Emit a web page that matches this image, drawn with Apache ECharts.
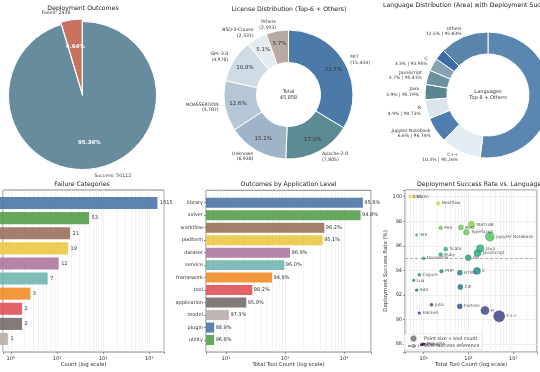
<!DOCTYPE html>
<html><head><meta charset="utf-8">
<script src="https://cdn.jsdelivr.net/npm/echarts@6/dist/echarts.min.js"></script>
<style>html,body{margin:0;padding:0;background:#fff}#c{width:540px;height:372px}</style>
</head><body><div id="c"></div>
<script>
// ---------------- data ----------------
const outcomeLabels = ['Failed', 'Success'];
const outcomeCounts = [2438, 50112];

const licenseNames = ['MIT', 'Apache-2.0', 'Unknown', 'NOASSERTION', 'GPL-3.0', 'BSD-3-Clause', 'Others'];
const licenseCounts = [15434, 7805, 6938, 5787, 4970, 2331, 2593];

const languageNames = ['Python', 'C++', 'Jupyter Notebook', 'R', 'Java', 'JavaScript', 'C', 'MATLAB', 'Others'];
const languageAreaPct = [52.0, 10.3, 6.6, 4.9, 3.9, 3.7, 3.3, 2.8, 12.5];
const languageSuccessPct = [null, 90.26, 96.74, 90.73, 95.79, 95.41, 93.95, 97.74, 95.83];

const failureCategories = ['failure_1', 'failure_2', 'failure_3', 'failure_4', 'failure_5', 'failure_6', 'failure_7', 'failure_8', 'failure_9', 'failure_10'];
const failureCounts = [1515, 53, 21, 19, 12, 7, 3, 2, 2, 1];

const appLevels = ['library', 'solver', 'workflow', 'platform', 'dataset', 'service', 'framework', 'tool', 'application', 'model', 'plugin', 'utility'];
const appToolCounts = [20900, 19100, 4640, 4350, 1215, 975, 605, 279, 221, 112, 63, 63];
const appSuccessPct = [95.8, 94.8, 96.2, 95.1, 96.9, 96.0, 94.9, 98.2, 95.9, 97.3, 88.9, 96.8];

const scatterLanguages = ['CSS', 'Kotlin', 'Nextflow', 'Perl', 'TeX', 'Rust', 'TypeScript', 'MATLAB', 'Jupyter Notebook', 'Java', 'JavaScript', 'Go', 'Scala', 'Ruby', 'Dockerfile', 'PHP', 'HTML', 'C', 'Clojure', 'Lua', 'Ada', 'C#', 'Julia', 'Fortran', 'Haskell', 'R', 'C++', 'Groovy', 'Makefile'];
const scatterToolCounts = [5, 6, 21, 24, 7, 68, 90, 117, 300, 183, 159, 99, 31, 24, 10, 25, 64, 155, 8, 6, 7, 66, 15, 64, 8, 234, 485, 9, 10];
const scatterSuccessPct = [100.0, 100.0, 99.46, 97.47, 96.88, 97.5, 97.1, 97.74, 96.74, 95.79, 95.41, 95.03, 95.72, 95.3, 94.98, 93.92, 93.81, 93.95, 93.64, 93.18, 92.39, 92.64, 91.2, 91.07, 90.52, 90.73, 90.26, 87.95, 88.0];
const successReference = 95;

// ---------------- styling ----------------
const FONT = 'DejaVu Sans';
const outcomeColors = ['#c8715f', '#678c9d'];
const licenseColors = ['#4b79a8', '#5c8b94', '#9fb4c8', '#b5c7d6', '#cfdbe5', '#e6ebef', '#b8aba7'];
const languageColors = ['#5a86b0', '#e4ecf2', '#4f7db0', '#dbe5ed', '#5a8592', '#6b929d', '#87a2b3', '#3b6ba8', '#5a84a9'];
const tab10 = ['#4e79a7', '#59a14f', '#9c755f', '#edc948', '#b07aa1', '#76b7b2', '#f28e2b', '#e15759', '#79706e', '#bab0ac'];
const viridis = ['#440154', '#482475', '#414487', '#355f8d', '#2a788e', '#21918c', '#22a884', '#44bf70', '#7ad151', '#bddf26', '#fde725'];

const SUP = {'-': '\u207B', '0': '\u2070', '1': '\u00B9', '2': '\u00B2', '3': '\u00B3', '4': '\u2074', '5': '\u2075'};
function logLabel(v) {
  const e = Math.log10(v), r = Math.round(e);
  if (Math.abs(e - r) > 1e-6) return '';
  return '10' + String(r).split('').map(c => SUP[c]).join('');
}
function minorTicks(lo, hi) {
  const out = [];
  for (let e = -1; e <= 5; e++) for (let m = 2; m <= 9; m++) {
    const v = m * Math.pow(10, e);
    if (v > lo * 1.001 && v < hi * 0.999) out.push(v);
  }
  return out;
}
const gridLineColor = '#e6e6e6';
const spine = {show: true, borderColor: '#666', borderWidth: 0.8, backgroundColor: 'rgba(0,0,0,0)'};
const labelTxt = {fontSize: 5, color: '#333', fontFamily: FONT};

function logAxis(gridIndex, min, max, name, visible) {
  const ax = {
    type: 'log', logBase: 10, gridIndex, min, max, startValue: min,
    axisLine: {show: false},
    axisTick: {show: visible, length: 2, lineStyle: {color: '#555', width: 0.6}},
    axisLabel: {show: visible, formatter: logLabel, margin: 4, ...labelTxt},
    splitLine: {show: visible, lineStyle: {color: gridLineColor, width: 0.6}},
    show: visible
  };
  if (name) {
    ax.name = name; ax.nameLocation = 'middle'; ax.nameGap = 10;
    ax.nameTextStyle = {fontSize: 5.4, color: '#333', fontFamily: FONT};
  }
  return ax;
}
function minorLineSeries(xAxisIndex, yAxisIndex, lo, hi) {
  return {
    type: 'line', xAxisIndex, yAxisIndex, data: [], z: 0, silent: true,
    markLine: {
      silent: true, z: 0, symbol: ['none', 'none'], animation: false,
      label: {show: false},
      lineStyle: {color: gridLineColor, width: 0.5, type: 'solid'},
      emphasis: {disabled: true},
      data: minorTicks(lo, hi).map(v => ({xAxis: v}))
    }
  };
}

const outcomeTotal = outcomeCounts.reduce((a, b) => a + b, 0);
const licenseTotal = licenseCounts.reduce((a, b) => a + b, 0);

const p4min = 0.678, p4max = 2085;
const p5min = 45.8, p5max = 28700;
const p6min = 3.84, p6max = 3388;

const option = {
  animation: false,
  textStyle: {fontFamily: FONT},
  title: [
    {text: 'Deployment Outcomes', left: 83, top: 5.5, textAlign: 'center'},
    {text: 'License Distribution (Top-6 + Others)', left: 289, top: 6.5, textAlign: 'center'},
    {text: 'Language Distribution (Area) with Deployment Success Rate', left: 383, top: 2.5, textAlign: 'left'},
    {text: 'Failure Categories', left: 82, top: 181.5, textAlign: 'center'},
    {text: 'Outcomes by Application Level', left: 288.5, top: 181.5, textAlign: 'center'},
    {text: 'Deployment Success Rate vs. Language', left: 417, top: 181.5, textAlign: 'left'}
  ].map(t => Object.assign(t, {padding: 0, textStyle: {fontSize: 6.2, fontWeight: 'normal', color: '#222', fontFamily: FONT}})),
  graphic: [
    {type: 'text', x: 288.5, y: 94.5, silent: true, style: {text: 'Total\n' + licenseTotal.toLocaleString('en-US'), align: 'center', verticalAlign: 'middle', fontSize: 5, lineHeight: 6, fill: '#333', fontFamily: FONT}},
    {type: 'text', x: 488, y: 95, silent: true, style: {text: 'Languages\nTop-8 + Others', align: 'center', verticalAlign: 'middle', fontSize: 5, lineHeight: 6, fill: '#333', fontFamily: FONT}}
  ],
  legend: {
    orient: 'vertical', left: 404, top: 334, itemGap: 1.5, itemWidth: 11, itemHeight: 5,
    padding: [1, 3], backgroundColor: 'rgba(255,255,255,0.8)', borderColor: '#ddd', borderWidth: 0.5,
    textStyle: {fontSize: 4.8, color: '#333', fontFamily: FONT},
    data: [
      {name: 'Point size \u221D tool count', icon: 'circle', itemStyle: {color: '#808080'}},
      {name: '95% success reference'}
    ]
  },
  visualMap: {
    type: 'continuous', show: false, seriesIndex: 12, dimension: 1,
    min: Math.min(...scatterSuccessPct), max: Math.max(...scatterSuccessPct),
    inRange: {color: viridis}
  },
  grid: [
    Object.assign({left: -1, top: 190, width: 165, height: 162}, spine),
    {left: -1, top: 195.45, width: 165, height: 151.1},
    Object.assign({left: 206, top: 190.3, width: 165, height: 161.7}, spine),
    {left: 206, top: 196.46, width: 165, height: 149.8},
    Object.assign({left: 405, top: 190, width: 165, height: 162}, spine)
  ],
  xAxis: [
    logAxis(0, p4min, p4max, 'Count (log scale)', true),
    logAxis(1, p4min, p4max, null, false),
    logAxis(2, p5min, p5max, 'Total Tool Count (log scale)', true),
    logAxis(3, p5min, p5max, null, false),
    logAxis(4, p6min, p6max, 'Total Tool Count (log scale)', true)
  ],
  yAxis: [
    {type: 'value', gridIndex: 0, min: 0, max: 1, show: false},
    {type: 'category', gridIndex: 1, data: failureCategories, inverse: true,
     axisLine: {show: false}, axisTick: {show: false}, axisLabel: {show: false}},
    {type: 'value', gridIndex: 2, min: 0, max: 1, show: false},
    {type: 'category', gridIndex: 3, data: appLevels, inverse: true,
     axisLine: {show: false}, axisTick: {show: true, alignWithLabel: true, length: 2, lineStyle: {color: '#555', width: 0.6}},
     axisLabel: Object.assign({margin: 3}, labelTxt)},
    {type: 'value', gridIndex: 4, min: 87.35, max: 100.546, splitNumber: 6,
     axisLine: {show: false},
     axisTick: {show: true, length: 2, lineStyle: {color: '#555', width: 0.6}},
     axisLabel: Object.assign({margin: 3, formatter: v => (Math.abs(v - Math.round(v)) < 1e-6 && Math.round(v) % 2 === 0) ? String(Math.round(v)) : ''}, labelTxt),
     splitLine: {show: true, lineStyle: {color: gridLineColor, width: 0.6}},
     name: 'Deployment Success Rate (%)', nameLocation: 'middle', nameGap: 17,
     nameTextStyle: {fontSize: 5.4, color: '#333', fontFamily: FONT}}
  ],
  series: [
    // 0: outcomes pie
    {
      type: 'pie', center: [82.5, 95.5], radius: [0, 74], clockwise: false, startAngle: 90,
      selectedMode: 'multiple', selectedOffset: 2.5, avoidLabelOverlap: false, emphasis: {disabled: true}, silent: true,
      itemStyle: {borderColor: '#fff', borderWidth: 1},
      label: {position: 'outside', formatter: p => p.name + ': ' + p.value, fontSize: 4.7, color: '#444', distanceToLabelLine: 0, fontFamily: FONT},
      labelLine: {show: false, length: 7, length2: 0},
      data: outcomeLabels.map((n, i) => ({name: n, value: outcomeCounts[i], selected: i === 0, itemStyle: {color: outcomeColors[i]}}))
    },
    // 1: outcomes pct
    {
      type: 'pie', center: [82.5, 95.5], radius: [14.8, 74], clockwise: false, startAngle: 90,
      selectedMode: 'multiple', selectedOffset: 2.5, avoidLabelOverlap: false, emphasis: {disabled: true}, silent: true,
      itemStyle: {color: 'rgba(0,0,0,0)', borderWidth: 0},
      label: {position: 'inside', formatter: p => (p.value / outcomeTotal * 100).toFixed(2) + '%', fontSize: 5.5, fontWeight: 'bold', color: '#fff', fontFamily: FONT},
      labelLine: {show: false},
      data: outcomeLabels.map((n, i) => ({name: n, value: outcomeCounts[i], selected: i === 0}))
    },
    // 2: license donut
    {
      type: 'pie', center: [288.5, 94.5], radius: [32, 64.5], clockwise: true, startAngle: 90,
      avoidLabelOverlap: false, emphasis: {disabled: true}, silent: true,
      itemStyle: {borderColor: '#fff', borderWidth: 1},
      label: {position: 'outside', formatter: p => p.name + '\n(' + p.value.toLocaleString('en-US') + ')', fontSize: 4.6, lineHeight: 5.6, color: '#333', distanceToLabelLine: 0, fontFamily: FONT},
      labelLine: {show: false, length: 6.5, length2: 0},
      data: licenseNames.map((n, i) => ({name: n, value: licenseCounts[i], itemStyle: {color: licenseColors[i]}}))
    },
    // 3: license pct
    {
      type: 'pie', center: [288.5, 94.5], radius: [32, 64.5], clockwise: true, startAngle: 90,
      avoidLabelOverlap: false, emphasis: {disabled: true}, silent: true,
      itemStyle: {color: 'rgba(0,0,0,0)', borderWidth: 0},
      label: {position: 'inside', formatter: p => (p.value / licenseTotal * 100).toFixed(1) + '%', fontSize: 5.5, color: '#333', fontFamily: FONT},
      labelLine: {show: false},
      data: licenseNames.map((n, i) => ({name: n, value: licenseCounts[i]}))
    },
    // 4: language donut
    {
      type: 'pie', center: [488, 95], radius: [41, 63], clockwise: true, startAngle: 90,
      avoidLabelOverlap: false, emphasis: {disabled: true}, silent: true,
      itemStyle: {borderColor: '#fff', borderWidth: 1},
      label: {position: 'outside', fontSize: 4.5, lineHeight: 5.5, color: '#333', distanceToLabelLine: 0, fontFamily: FONT,
        formatter: p => {
          const i = p.dataIndex, r = languageSuccessPct[i];
          return p.name + '\n' + languageAreaPct[i].toFixed(1) + '%' + (r == null ? '' : ' | ' + r.toFixed(2) + '%');
        }},
      labelLine: {show: false, length: 6, length2: 0},
      data: languageNames.map((n, i) => ({name: n, value: languageAreaPct[i], itemStyle: {color: languageColors[i]}}))
    },
    // 5: panel 4 minor grid
    minorLineSeries(0, 0, p4min, p4max),
    // 6: failure bars
    {
      type: 'bar', xAxisIndex: 1, yAxisIndex: 1, barWidth: '80%', z: 3, silent: true,
      label: {show: true, position: 'right', distance: 2.5, fontSize: 5, color: '#222', fontFamily: FONT},
      data: failureCounts.map((v, i) => ({value: v, itemStyle: {color: tab10[i % 10], opacity: 0.92}}))
    },
    // 7: panel 5 minor grid
    minorLineSeries(2, 2, p5min, p5max),
    // 8: app level bars
    {
      type: 'bar', xAxisIndex: 3, yAxisIndex: 3, barWidth: '80%', z: 3, silent: true,
      label: {show: true, position: 'right', distance: 1.5, fontSize: 5, color: '#222', fontFamily: FONT,
        formatter: p => appSuccessPct[p.dataIndex].toFixed(1) + '%'},
      data: appToolCounts.map((v, i) => ({value: v, itemStyle: {color: tab10[i % 10], opacity: 0.92}}))
    },
    // 9: panel 6 minor grid
    minorLineSeries(4, 4, p6min, p6max),
    // 10: reference line
    {
      type: 'line', name: '95% success reference', xAxisIndex: 4, yAxisIndex: 4, data: [], symbol: 'none',
      lineStyle: {color: '#999', width: 0.8, type: [3, 2]}, itemStyle: {color: '#999'},
      markLine: {silent: true, symbol: ['none', 'none'], label: {show: false},
        lineStyle: {color: '#999', width: 0.8, type: [3, 2]}, data: [{yAxis: successReference}]}
    },
    // 11: placeholder to keep indices tidy
    {type: 'line', xAxisIndex: 4, yAxisIndex: 4, data: []},
    // 12: scatter
    {
      type: 'scatter', name: 'Point size \u221D tool count', xAxisIndex: 4, yAxisIndex: 4, z: 4, silent: true,
      symbolSize: v => 1.8 + 0.44 * Math.sqrt(v[0]),
      itemStyle: {opacity: 0.85, borderColor: 'rgba(0,0,0,0.25)', borderWidth: 0.4},
      label: {show: true, position: 'right', distance: 1.5, formatter: '{b}', fontSize: 4.3, color: '#333', fontFamily: FONT},
      data: scatterLanguages.map((n, i) => ({name: n, value: [scatterToolCounts[i], scatterSuccessPct[i]]}))
    }
  ]
};
const chart = echarts.init(document.getElementById('c'), null, {renderer: 'canvas'});
chart.setOption(option);
</script>
</body></html>
